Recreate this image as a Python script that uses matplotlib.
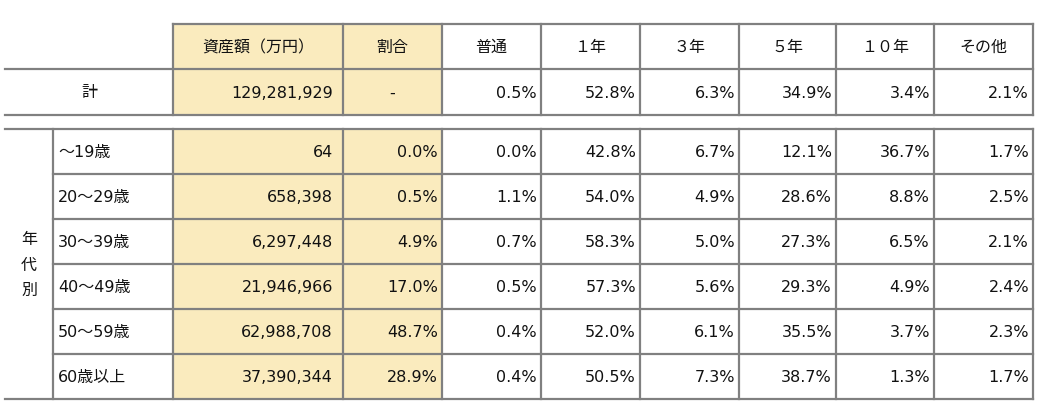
import matplotlib
matplotlib.use("Agg")
import matplotlib.pyplot as plt
from matplotlib.patches import Rectangle

plt.rcParams['font.family'] = ['DejaVu Sans', 'Noto Sans CJK JP']

headers = ["資産額（万円）", "割合", "普通", "１年", "３年", "５年", "１０年", "その他"]
total_label = "計"
total_row = ["129,281,929", "-", "0.5%", "52.8%", "6.3%", "34.9%", "3.4%", "2.1%"]
group_label = "年\n代\n別"
ages = ["～19歳", "20～29歳", "30～39歳", "40～49歳", "50～59歳", "60歳以上"]
amounts = ["64", "658,398", "6,297,448", "21,946,966", "62,988,708", "37,390,344"]
shares = ["0.0%", "0.5%", "4.9%", "17.0%", "48.7%", "28.9%"]
futsu = ["0.0%", "1.1%", "0.7%", "0.5%", "0.4%", "0.4%"]
y1 = ["42.8%", "54.0%", "58.3%", "57.3%", "52.0%", "50.5%"]
y3 = ["6.7%", "4.9%", "5.0%", "5.6%", "6.1%", "7.3%"]
y5 = ["12.1%", "28.6%", "27.3%", "29.3%", "35.5%", "38.7%"]
y10 = ["36.7%", "8.8%", "6.5%", "4.9%", "3.7%", "1.3%"]
other = ["1.7%", "2.5%", "2.1%", "2.4%", "2.3%", "1.7%"]

W, H = 1037, 406
fig = plt.figure(figsize=(W / 100, H / 100), dpi=100)
ax = fig.add_axes([0, 0, 1, 1])
ax.set_xlim(0, W)
ax.set_ylim(H, 0)
ax.axis("off")

xs = [173, 343, 442, 541, 640, 739, 836, 934, 1033]
pads = [10, 4, 4, 4, 4, 4, 4, 4]
left, mid = 5, 53
head_y = (25, 70)
tot_y = (70, 116)
row_y = [130, 175, 220, 265, 310, 355, 400]
fill = "#FAEBBE"
lc = "#808080"
lw = 1.6
fs = 11.5
tc = "#111111"

def cell(x0, x1, y0, y1, color):
    ax.add_patch(Rectangle((x0, y0), x1 - x0, y1 - y0, facecolor=color, edgecolor="none"))

# yellow columns
for c in range(2):
    cell(xs[c], xs[c + 1], head_y[0], tot_y[1], fill)
    cell(xs[c], xs[c + 1], row_y[0], row_y[-1], fill)

def hl(y, x0, x1):
    ax.plot([x0, x1], [y, y], color=lc, lw=lw, solid_capstyle="projecting")

def vl(x, y0, y1):
    ax.plot([x, x], [y0, y1], color=lc, lw=lw, solid_capstyle="projecting")

hl(head_y[0], xs[0], xs[-1])
hl(head_y[1], left, xs[-1])
hl(tot_y[1], left, xs[-1])
hl(row_y[0], left, xs[-1])
for y in row_y[1:-1]:
    hl(y, mid, xs[-1])
hl(row_y[-1], left, xs[-1])
for x in xs:
    vl(x, head_y[0], tot_y[1])
    vl(x, row_y[0], row_y[-1])
vl(mid, row_y[0], row_y[-1])

# header
for i, h in enumerate(headers):
    ax.text((xs[i] + xs[i + 1]) / 2, sum(head_y) / 2, h, ha="center", va="center", fontsize=fs, color=tc)

# total row
ym = sum(tot_y) / 2
ax.text((left + xs[0]) / 2, ym, total_label, ha="center", va="center", fontsize=fs, color=tc)
for i, v in enumerate(total_row):
    if v == "-":
        ax.text((xs[i] + xs[i + 1]) / 2, ym, v, ha="center", va="center", fontsize=fs, color=tc)
    else:
        ax.text(xs[i + 1] - pads[i], ym, v, ha="right", va="center", fontsize=fs, color=tc)

# age rows
ax.text((left + mid) / 2, (row_y[0] + row_y[-1]) / 2, group_label, ha="center", va="center",
        fontsize=fs, color=tc, linespacing=1.9)
cols = [amounts, shares, futsu, y1, y3, y5, y10, other]
for r, age in enumerate(ages):
    ym = (row_y[r] + row_y[r + 1]) / 2
    ax.text(mid + 5, ym, age, ha="left", va="center", fontsize=fs, color=tc)
    for i, col in enumerate(cols):
        ax.text(xs[i + 1] - pads[i], ym, col[r], ha="right", va="center", fontsize=fs, color=tc)

fig.savefig("out.png", dpi=100, facecolor="white")
